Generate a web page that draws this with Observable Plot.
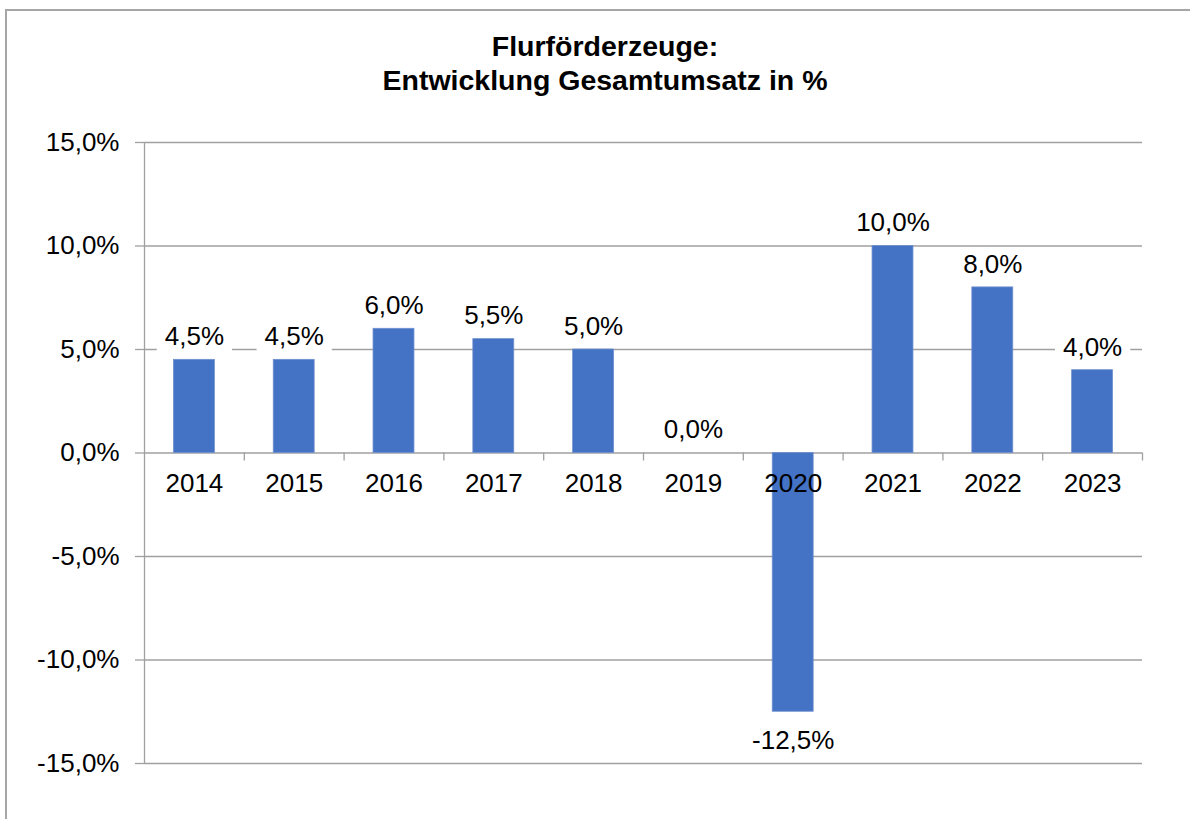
<!DOCTYPE html>
<html><head><meta charset="utf-8">
<script src="https://cdn.jsdelivr.net/npm/d3@7"></script>
<script src="https://cdn.jsdelivr.net/npm/@observablehq/plot@0.6"></script>
<style>
body{margin:0;background:#fff;font-family:"Liberation Sans",Arial,sans-serif;overflow:hidden;}
#frame{position:absolute;left:5px;top:9px;width:1200px;height:900px;border-left:2px solid #a6a6a6;border-top:2px solid #a6a6a6;pointer-events:none;}
#title{height:120px;box-sizing:border-box;padding-top:29px;padding-left:20px;text-align:center;font-weight:bold;font-size:28.5px;line-height:34px;color:#000;}
#chart svg{display:block;}
</style></head><body>
<div id="frame"></div>
<div id="title">Flurförderzeuge:<br>Entwicklung Gesamtumsatz in %</div>
<div id="chart"></div>
<script>
const years = ["2014","2015","2016","2017","2018","2019","2020","2021","2022","2023"];
const values = [4.5, 4.5, 6.0, 5.5, 5.0, 0.0, -12.5, 10.0, 8.0, 4.0];
const yTicks = [-15, -10, -5, 0, 5, 10, 15];

const data = years.map((year, i) => ({year, value: values[i]}));
const fmt = v => v.toFixed(1).replace(".", ",") + "%";

const W = 1190, H = 699, ML = 144, MR = 48, MT = 22, MB = 56;
const step = (W - ML - MR) / years.length;
const gray = "#a0a0a0";
const blue = "#4472C4";

const chart = Plot.plot({
  width: W, height: H,
  marginLeft: ML, marginRight: MR, marginTop: MT, marginBottom: MB,
  style: {fontFamily: "'Liberation Sans', Arial, sans-serif", fontSize: "26px", color: "#000", background: "#fff", overflow: "visible"},
  x: {domain: years, paddingInner: 0.59, paddingOuter: 0.295, round: false, axis: null},
  y: {domain: [-15, 15], axis: null},
  marks: [
    Plot.ruleY(yTicks, {stroke: gray, strokeWidth: 1.3}),
    Plot.axisY({ticks: yTicks, tickFormat: fmt, tickSize: 9, tickPadding: 16, stroke: gray, strokeWidth: 1.3, strokeOpacity: 1, fill: "#000", fontSize: 26, label: null}),
    Plot.ruleX([years[0]], {dx: -step / 2, y1: -15, y2: 15, stroke: gray, strokeWidth: 1.3}),
    Plot.ruleX(years, {x: d => d, dx: step / 2, y1: 0, y2: 0, insetBottom: -8, stroke: gray, strokeWidth: 1.3}),
    Plot.barY(data, {x: "year", y: "value", fill: blue, stroke: "#6f8fce", strokeWidth: 0.8}),
    Plot.text(years, {x: d => d, y: 0, dy: 31, text: d => d, fill: "#000", fontSize: 26}),
    Plot.text(data.filter(d => d.value >= 0), {x: "year", y: "value", dy: -23, text: d => fmt(d.value), fill: "#000", fontSize: 26, className: "vlabel"}),
    Plot.text(data.filter(d => d.value < 0), {x: "year", y: "value", dy: 29, text: d => fmt(d.value), fill: "#000", fontSize: 26, className: "vlabel"})
  ]
});
document.getElementById("chart").appendChild(chart);

// white label background boxes (like the reference's data labels)
chart.querySelectorAll(".vlabel text").forEach(t => {
  const b = t.getBBox();
  const r = document.createElementNS("http://www.w3.org/2000/svg", "rect");
  r.setAttribute("x", b.x - 8);
  r.setAttribute("y", b.y + 2);
  r.setAttribute("width", b.width + 16);
  r.setAttribute("height", b.height + 2);
  r.setAttribute("fill", "#fff");
  if (t.getAttribute("transform")) r.setAttribute("transform", t.getAttribute("transform"));
  t.parentNode.insertBefore(r, t);
});
</script>
</body></html>
